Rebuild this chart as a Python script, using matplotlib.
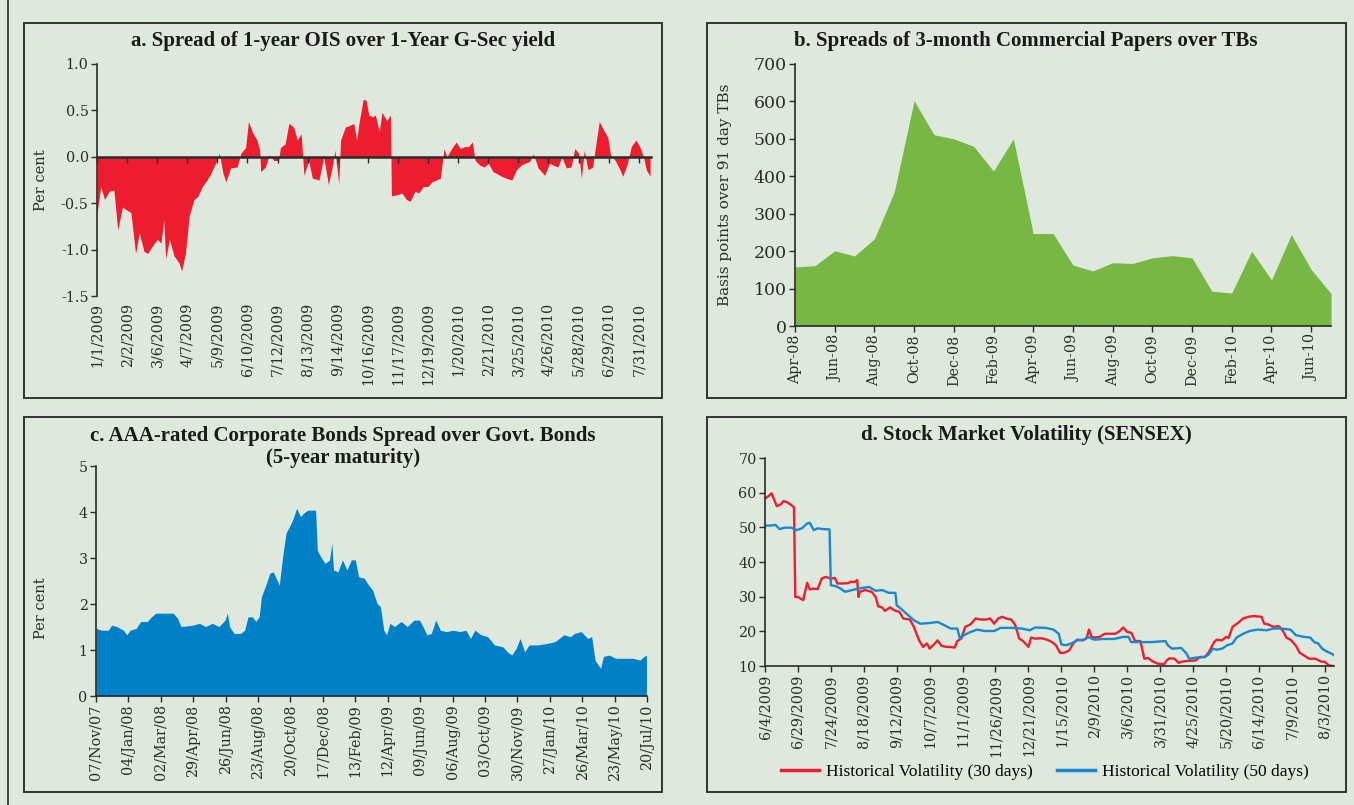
import numpy as np
import pandas as pd
import matplotlib
matplotlib.use("Agg")
import matplotlib.pyplot as plt
from matplotlib.patches import Rectangle
from matplotlib.lines import Line2D
from matplotlib.ticker import FormatStrFormatter

W, H = 1354, 805
BG = "#dfe8dc"
INK = "#2b2b2b"

# a. OIS spread over G-Sec (days from 1 Jan 2009, per cent)
ois_start = "2009-01-01"
ois_day = [0, 4, 8, 13, 18, 22, 27, 31, 36, 41, 45, 50, 54, 59, 64, 68, 71, 73, 77, 82,
           87, 90, 94, 98, 103, 107, 112, 117, 121, 126, 130, 134, 137, 142, 149, 153, 158, 161, 165, 170,
           173, 174, 179, 183, 188, 193, 195, 200, 204, 209, 213, 217, 220, 225, 229, 236, 241, 246, 250, 253,
           257, 259, 264, 269, 273, 276, 279, 283, 286, 289, 293, 296, 300, 303, 308, 312, 313, 319, 324, 329,
           333, 338, 342, 347, 352, 356, 361, 365, 369, 372, 377, 382, 386, 391, 395, 399, 402, 407, 412, 416,
           421, 425, 430, 435, 441, 446, 451, 455, 460, 464, 469, 476, 481, 485, 490, 494, 499, 504, 508, 512,
           515, 518, 522, 527, 530, 534, 538, 543, 546, 551, 556, 559, 564, 568, 573, 577, 581, 584, 588]
ois_spread = [-0.61, -0.32, -0.46, -0.37, -0.36, -0.79, -0.54, -0.57, -0.60, -1.04,
              -0.82, -1.02, -1.04, -0.96, -0.89, -0.93, -0.68, -1.10, -0.89, -1.07,
              -1.14, -1.23, -1.04, -0.64, -0.46, -0.43, -0.32, -0.25, -0.18, -0.07,
              0.04, -0.18, -0.27, -0.12, -0.11, 0.04, 0.10, 0.38, 0.27, 0.18,
              0.07, -0.16, -0.11, 0.02, -0.04, -0.04, 0.10, 0.14, 0.36, 0.32,
              0.18, 0.25, -0.20, -0.04, -0.23, -0.25, 0.00, -0.30, -0.11, 0.07,
              -0.29, 0.18, 0.32, 0.34, 0.36, 0.18, 0.39, 0.62, 0.61, 0.45,
              0.43, 0.45, 0.27, 0.48, 0.39, 0.45, -0.42, -0.41, -0.39, -0.46,
              -0.48, -0.37, -0.39, -0.32, -0.32, -0.27, -0.25, -0.23, 0.09, 0.00,
              0.09, 0.16, 0.09, 0.11, 0.11, 0.16, -0.04, -0.09, -0.11, -0.07,
              -0.16, -0.18, -0.21, -0.23, -0.25, -0.14, -0.09, -0.07, -0.05, 0.03,
              -0.12, -0.20, -0.07, -0.09, -0.11, 0.00, -0.12, -0.11, 0.09, 0.04,
              -0.23, 0.07, -0.14, -0.11, 0.11, 0.38, 0.30, 0.21, 0.02, -0.04,
              -0.14, -0.21, -0.07, 0.11, 0.18, 0.11, 0.00, -0.14, -0.21]

# b. 3-month CP spread over 91-day TBs (basis points, monthly)
cp_months = ["Apr-08", "May-08", "Jun-08", "Jul-08", "Aug-08", "Sep-08", "Oct-08", "Nov-08",
             "Dec-08", "Jan-09", "Feb-09", "Mar-09", "Apr-09", "May-09", "Jun-09", "Jul-09",
             "Aug-09", "Sep-09", "Oct-09", "Nov-09", "Dec-09", "Jan-10", "Feb-10", "Mar-10",
             "Apr-10", "May-10", "Jun-10", "Jul-10"]
cp_spread = [158, 161, 201, 187, 233, 358, 602, 511, 500, 480, 414, 500, 247, 247,
             163, 147, 169, 167, 182, 188, 182, 93, 88, 200, 123, 244, 151, 87]

# c. AAA corporate bond spread, 5-year (days from 7 Nov 2007, per cent)
aaa_start = "2007-11-07"
aaa_day = [0, 10, 22, 28, 37, 49, 55, 61, 72, 80, 92, 99, 107, 115, 127, 138, 146, 152, 161, 173,
           185, 196, 208, 220, 231, 235, 239, 247, 259, 266, 272, 280, 286, 292, 296, 303, 311, 317, 325, 328,
           334, 340, 346, 352, 359, 366, 371, 379, 387, 393, 396, 402, 410, 418, 422, 425, 433, 441, 449, 457,
           464, 470, 480, 488, 495, 503, 509, 515, 520, 526, 534, 546, 557, 569, 579, 585, 592, 600, 608, 616,
           627, 639, 651, 662, 670, 678, 689, 701, 713, 728, 736, 744, 752, 759, 767, 775, 790, 806, 821, 829,
           837, 849, 856, 868, 880, 887, 893, 899, 903, 908, 918, 930, 946, 961, 973, 981, 985]
aaa_spread = [1.47, 1.43, 1.43, 1.54, 1.51, 1.43, 1.33, 1.43, 1.47, 1.62,
              1.62, 1.72, 1.80, 1.80, 1.80, 1.80, 1.69, 1.51, 1.52, 1.54,
              1.58, 1.51, 1.58, 1.51, 1.65, 1.80, 1.51, 1.36, 1.36, 1.43,
              1.72, 1.72, 1.62, 1.72, 2.16, 2.38, 2.67, 2.70, 2.49, 2.41,
              3.03, 3.54, 3.68, 3.83, 4.08, 3.90, 3.97, 4.04, 4.04, 4.04,
              3.17, 3.03, 2.88, 2.96, 3.32, 2.74, 2.70, 2.96, 2.74, 2.96,
              2.96, 2.59, 2.56, 2.41, 2.30, 2.01, 1.94, 1.43, 1.33, 1.58,
              1.51, 1.62, 1.51, 1.65, 1.65, 1.51, 1.33, 1.36, 1.65, 1.43,
              1.40, 1.43, 1.40, 1.43, 1.25, 1.43, 1.33, 1.29, 1.11, 1.07,
              0.96, 0.89, 1.04, 1.25, 0.96, 1.11, 1.11, 1.14, 1.18, 1.25,
              1.33, 1.29, 1.36, 1.40, 1.25, 1.29, 0.78, 0.67, 0.60, 0.86,
              0.89, 0.82, 0.82, 0.82, 0.78, 0.86, 0.89]

# d. SENSEX historical volatility (days from 4 Jun 2009)
vol_start = "2009-06-04"
vol30_day = [0, 2, 5, 7, 9, 12, 14, 17, 20, 22, 23, 25, 29, 32, 34, 37, 40, 43, 46, 50,
             53, 55, 59, 63, 65, 68, 70, 71, 72, 76, 81, 84, 86, 89, 91, 95, 98, 102, 105, 110,
             113, 117, 120, 123, 125, 129, 131, 134, 138, 141, 144, 146, 149, 152, 156, 160, 164, 168, 171, 174,
             177, 180, 183, 187, 190, 193, 196, 200, 202, 205, 210, 214, 218, 221, 224, 227, 231, 234, 237, 241,
             244, 246, 248, 250, 254, 258, 262, 266, 269, 272, 275, 278, 281, 285, 288, 291, 294, 298, 303, 305,
             307, 311, 314, 317, 322, 327, 330, 334, 337, 341, 343, 347, 350, 352, 355, 359, 363, 367, 371, 377,
             379, 382, 386, 390, 393, 396, 399, 403, 406, 409, 413, 418, 422, 425, 428, 431]
vol30 = [58.3, 58.8, 59.8, 57.9, 56.1, 56.6, 57.6, 57.2, 56.4, 55.8,
         29.9, 29.9, 29.0, 34.0, 32.1, 32.3, 32.2, 35.2, 35.7, 35.2,
         35.4, 33.8, 33.8, 33.9, 34.3, 34.2, 34.8, 29.9, 31.4, 31.9,
         31.4, 29.9, 27.2, 26.9, 25.9, 26.9, 26.1, 25.6, 23.7, 23.4,
         21.3, 17.4, 15.5, 16.5, 15.0, 16.5, 17.4, 15.8, 15.5, 15.5,
         15.3, 17.2, 17.9, 21.3, 22.0, 23.7, 23.4, 23.4, 23.7, 22.2,
         23.7, 24.2, 23.7, 23.4, 21.8, 17.9, 17.2, 15.5, 18.2, 17.9,
         18.0, 17.6, 16.9, 15.9, 13.8, 13.8, 14.5, 16.5, 17.6, 17.4,
         17.9, 20.5, 18.4, 18.2, 18.4, 19.3, 19.3, 19.3, 20.0, 21.1,
         19.8, 19.6, 17.2, 17.2, 12.1, 12.3, 11.4, 10.7, 10.5, 11.6,
         12.2, 12.1, 10.9, 11.3, 11.5, 11.6, 12.6, 12.6, 14.0, 16.9,
         17.6, 17.4, 18.4, 18.1, 21.3, 22.4, 23.7, 24.2, 24.4, 24.2,
         22.2, 22.0, 21.3, 21.5, 20.3, 18.1, 17.6, 15.9, 13.8, 13.1,
         12.1, 12.1, 11.3, 11.2, 10.2, 10.0]
vol50_day = [0, 4, 8, 11, 15, 20, 24, 28, 32, 34, 37, 40, 44, 49, 50, 54, 57, 61, 66, 72,
             79, 84, 89, 94, 99, 100, 103, 108, 113, 118, 125, 131, 136, 141, 146, 148, 151, 156, 161, 167,
             174, 179, 187, 195, 201, 205, 213, 219, 223, 225, 229, 233, 237, 242, 245, 250, 257, 265, 272, 276,
             278, 285, 294, 304, 306, 309, 316, 320, 322, 327, 334, 337, 340, 343, 347, 351, 355, 358, 363, 368,
             374, 381, 386, 392, 399, 403, 409, 414, 417, 420, 423, 426, 430, 432]
vol50 = [50.5, 50.5, 50.7, 49.5, 49.9, 49.9, 49.2, 49.7, 51.1, 51.3,
         49.2, 49.7, 49.5, 49.4, 33.3, 33.0, 32.4, 31.4, 31.9, 32.4,
         32.8, 31.7, 31.9, 31.1, 31.1, 27.5, 26.6, 24.9, 23.2, 22.2,
         22.4, 22.7, 21.8, 20.8, 20.8, 17.9, 18.9, 19.8, 20.5, 20.1,
         20.1, 21.0, 21.0, 20.8, 20.3, 21.1, 21.0, 20.5, 19.3, 16.2,
         16.0, 16.6, 17.4, 17.6, 18.4, 17.6, 17.8, 17.8, 18.4, 18.4,
         16.9, 16.9, 16.9, 17.2, 15.9, 15.0, 15.2, 13.6, 12.1, 12.4,
         12.6, 13.4, 15.0, 14.7, 15.0, 16.0, 16.5, 18.2, 19.3, 20.1,
         20.5, 20.3, 20.8, 20.8, 20.5, 18.9, 18.4, 18.2, 16.9, 16.5,
         15.0, 14.3, 13.6, 13.1]

plt.rcParams["axes.unicode_minus"] = False
plt.rcParams["font.family"] = "DejaVu Serif"

fig = plt.figure(figsize=(W / 100, H / 100), dpi=100, facecolor=BG)


def px_axes(l, t, r, b):
    ax = fig.add_axes([l / W, 1 - b / H, (r - l) / W, (b - t) / H])
    ax.set_facecolor("none")
    for s in ("top", "right"):
        ax.spines[s].set_visible(False)
    for s in ("left", "bottom"):
        ax.spines[s].set_color(INK)
        ax.spines[s].set_linewidth(1.2)
    ax.tick_params(colors=INK, length=4, width=1, labelsize=10.3, direction="out", pad=2)
    return ax


def panel_box(l, t, r, b):
    fig.patches.append(Rectangle((l / W, 1 - b / H), (r - l) / W, (b - t) / H,
                                 transform=fig.transFigure, fill=False,
                                 edgecolor="#333333", lw=1.4))


def panel_title(x, y, text):
    fig.text(x / W, 1 - y / H, text, ha="center", va="center", family="Liberation Serif",
             weight="bold", size=15, color="#1a1a1a", linespacing=1.15)


def side_label(x, y, text, size=10.5):
    fig.text(x / W, 1 - y / H, text, ha="center", va="center", rotation=90,
             size=size, color=INK)


def day_labels(start, ticks, fmt):
    base = pd.Timestamp(start)
    out = []
    for d in ticks:
        t = base + pd.Timedelta(days=int(d))
        out.append(fmt(t))
    return out


mdy = lambda t: f"{t.month}/{t.day}/{t.year}"

# outer frame edge and panel boxes
fig.add_artist(Line2D([8 / W, 8 / W], [0, 1], color="#333333", lw=1.3))
for box in [(24, 23, 662, 398), (707, 23, 1346, 398), (24, 417, 662, 792), (707, 417, 1346, 792)]:
    panel_box(*box)

# ---- a. OIS spread
ax = px_axes(97, 64, 651, 296)
ax.fill_between(ois_day, 0, ois_spread, color="#ed1c2e", lw=0)
ax.set_xlim(0, 589)
ax.set_ylim(-1.5, 1.0)
ax.set_yticks(np.arange(-1.5, 1.01, 0.5))
ax.yaxis.set_major_formatter(FormatStrFormatter("%.1f"))
ax.spines["bottom"].set_position(("data", 0))
ax.spines["bottom"].set_linewidth(1.8)
ax.spines["bottom"].set_zorder(3)
a_ticks = np.arange(0, 577, 32)
ax.set_xticks(a_ticks)
ax.tick_params(axis="x", labelbottom=False)
sec = ax.secondary_xaxis("bottom")
sec.spines["bottom"].set_visible(False)
sec.set_xticks(a_ticks, labels=day_labels(ois_start, a_ticks, mdy))
sec.tick_params(length=0, pad=5, labelrotation=90, labelsize=10.3, colors=INK)
panel_title(343, 41, "a. Spread of 1-year OIS over 1-Year G-Sec yield")
side_label(41, 180, "Per cent")

# ---- b. CP spreads
ax = px_axes(795, 64, 1331, 326)
xb = np.arange(len(cp_months))
ax.fill_between(xb, 0, cp_spread, color="#76b843", lw=0)
ax.set_xlim(0, len(cp_months) - 1)
ax.set_ylim(0, 700)
ax.set_yticks(np.arange(0, 701, 100))
ax.tick_params(axis="y", labelsize=12.5)
ax.set_xticks(xb[::2], labels=cp_months[::2], rotation=90)
panel_title(1026, 41, "b. Spreads of 3-month Commercial Papers over TBs")
side_label(725, 195, "Basis points over 91 day TBs", size=11)

# ---- c. AAA corporate bond spread
ax = px_axes(96, 466, 647, 696)
ax.fill_between(aaa_day, 0, aaa_spread, color="#0080c6", lw=0)
ax.set_xlim(0, 986)
ax.set_ylim(0, 5)
ax.set_yticks(np.arange(0, 6, 1))
c_ticks = np.arange(0, 987, 58)
ax.set_xticks(c_ticks, labels=day_labels(aaa_start, c_ticks, lambda t: t.strftime("%d/%b/%y")),
              rotation=90)
panel_title(343, 447, "c. AAA-rated Corporate Bonds Spread over Govt. Bonds\n(5-year maturity)")
side_label(41, 608, "Per cent")

# ---- d. SENSEX volatility
ax = px_axes(765, 458, 1334, 666)
ax.plot(vol30_day, vol30, color="#ee1d30", lw=1.7, label="Historical Volatility (30 days)")
ax.plot(vol50_day, vol50, color="#1a88d0", lw=1.7, label="Historical Volatility (50 days)")
ax.set_xlim(0, 432)
ax.set_ylim(10, 70)
ax.set_yticks(np.arange(10, 71, 10))
d_ticks = np.arange(0, 426, 25)
ax.set_xticks(d_ticks, labels=day_labels(vol_start, d_ticks, mdy), rotation=90)
panel_title(1026, 435, "d. Stock Market Volatility (SENSEX)")
leg = ax.legend(loc="center", bbox_to_anchor=(1045 / W, 1 - 772 / H), bbox_transform=fig.transFigure,
                ncol=2, frameon=False, handlelength=2.2, handletextpad=0.4, columnspacing=1.4,
                prop={"family": "Liberation Serif", "size": 12.5})
for line in leg.get_lines():
    line.set_linewidth(2.5)

fig.savefig("out.png", dpi=100, facecolor=BG)
